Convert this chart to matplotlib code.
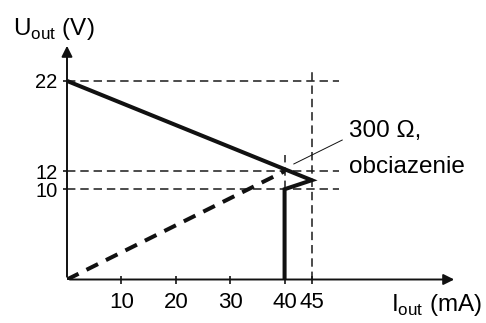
import matplotlib.pyplot as plt

plt.rcParams['font.family'] = ['Liberation Sans', 'DejaVu Sans']
plt.rcParams['mathtext.fontset'] = 'custom'
plt.rcParams['mathtext.rm'] = 'Liberation Sans'

# characteristic of the source (current limited)
char_i = [0, 45, 40, 40]
char_u = [22, 11, 10, 0]

# 300 ohm load line
load_i = [0, 40]
load_u = [0, 12]

# guide lines
h_levels = [22, 12, 10]
h_end = 50
v45_top = 23.2
v40_span = [10, 13.8]

x_ticks = [10, 20, 30, 40, 45]
y_ticks = [10, 12, 22]

x_max = 71.7
y_max = 26.2

fig = plt.figure(figsize=(4.86, 3.23), dpi=100)
ax = fig.add_axes([67 / 486, 43.5 / 323, 390 / 486, 236.5 / 323])
ax.set_xlim(0, x_max)
ax.set_ylim(0, y_max)
for s in ax.spines.values():
    s.set_visible(False)

dash_thin = (0, (5.5, 3.2))
for u in h_levels:
    ax.plot([0, h_end], [u, u], color='#1a1a1a', lw=1.1, linestyle=dash_thin)
ax.plot([45, 45], [0, v45_top], color='#1a1a1a', lw=1.1, linestyle=dash_thin)
ax.plot([40, 40], v40_span, color='#1a1a1a', lw=1.1, linestyle=dash_thin)

ax.plot(load_i, load_u, color='#111111', lw=2.9, linestyle=(0, (3.2, 2.2)))
ax.plot(char_i, char_u, color='#111111', lw=2.9, solid_joinstyle='miter')

# axes with arrows
arrow = dict(arrowstyle='-|>', color='#111111', lw=1.4, mutation_scale=16)
ax.annotate('', xy=(1, 0), xytext=(0, 0), xycoords='axes fraction', arrowprops=arrow)
ax.annotate('', xy=(0, 1), xytext=(0, 0), xycoords='axes fraction', arrowprops=arrow)

ax.set_xticks(x_ticks)
ax.set_yticks(y_ticks)
ax.tick_params(axis='x', direction='inout', length=6, width=1.1, pad=6, labelsize=16)
ax.tick_params(axis='y', direction='out', length=3, width=1.1, pad=4, labelsize=14.5)

# annotation
ax.plot([41.7, 50.6], [12.8, 15.45], color='#111111', lw=0.7)
ax.text(51.8, 15.8, '300 Ω,', fontsize=17.5, va='baseline', ha='left')
ax.text(51.8, 11.8, 'obciazenie', fontsize=17.5, va='baseline', ha='left')

fig.text(13 / 486, 1 - 35 / 323, r'U$_{\mathrm{out}}$ (V)', fontsize=17.5, va='baseline')
fig.text(391 / 486, 1 - 311 / 323, r'I$_{\mathrm{out}}$ (mA)', fontsize=17.5, va='baseline')

fig.savefig('out.png', dpi=100)
